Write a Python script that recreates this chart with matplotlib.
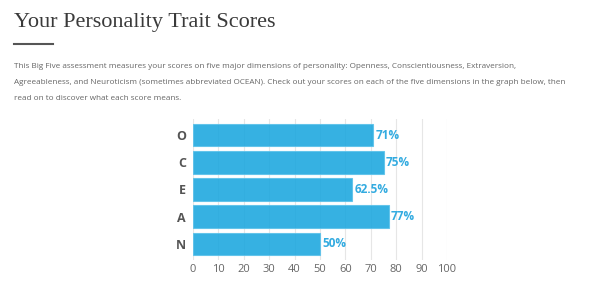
import matplotlib

matplotlib.use("Agg")
import matplotlib.pyplot as plt
from matplotlib.lines import Line2D

traits = ["O", "C", "E", "A", "N"]
scores = [71, 75, 62.5, 77, 50]
score_labels = ["71%", "75%", "62.5%", "77%", "50%"]
xticks = [0, 10, 20, 30, 40, 50, 60, 70, 80, 90, 100]

title = "Your Personality Trait Scores"
intro = [
    "This Big Five assessment measures your scores on five major dimensions of personality: Openness, Conscientiousness, Extraversion,",
    "Agreeableness, and Neuroticism (sometimes abbreviated OCEAN). Check out your scores on each of the five dimensions in the graph below, then",
    "read on to discover what each score means.",
]

W, H = 602, 301
fig = plt.figure(figsize=(W / 100, H / 100), dpi=100)
fig.patch.set_facecolor("white")

fig.text(14 / W, 1 - 23 / H, title, family="Liberation Serif", fontsize=16,
         color="#3a3a3a", va="center", ha="left")
fig.add_artist(Line2D([14 / W, 53 / W], [1 - 44 / H, 1 - 44 / H],
                      color="#555555", lw=1.5, transform=fig.transFigure))
for i, line in enumerate(intro):
    fig.text(14 / W, 1 - (66.5 + 16 * i) / H, line, family="Open Sans",
             fontsize=5.9, color="#666666", va="center", ha="left")

ax = fig.add_axes([193 / W, 1 - 260 / H, (447 - 193) / W, (260 - 119) / H])
ypos = list(range(len(traits)))
ax.barh(ypos, scores, height=0.82, color="#1aa7df", alpha=0.88,
        edgecolor="#5cc2ea", linewidth=0.8, zorder=2)
for y, s, lab in zip(ypos, scores, score_labels):
    ax.text(s + 1, y, lab, va="center", ha="left", fontsize=8.5,
            fontweight="bold", color="#33abe0", family="Open Sans")

ax.set_xlim(0, 100)
ax.set_ylim(4.6, -0.6)
ax.set_xticks(xticks)
ax.set_yticks(ypos)
ax.set_yticklabels(traits, fontsize=9, fontweight="bold", color="#555555",
                   family="Open Sans")
ax.set_xticklabels([str(t) for t in xticks], fontsize=8, color="#666666",
                   family="Open Sans")
ax.tick_params(axis="both", length=0)
ax.tick_params(axis="y", pad=5)
ax.tick_params(axis="x", pad=3)
ax.grid(axis="x", color="#e6e6e6", lw=0.8, zorder=0)
ax.set_axisbelow(True)
for sp in ax.spines.values():
    sp.set_visible(False)

fig.savefig("out.png", dpi=100)
